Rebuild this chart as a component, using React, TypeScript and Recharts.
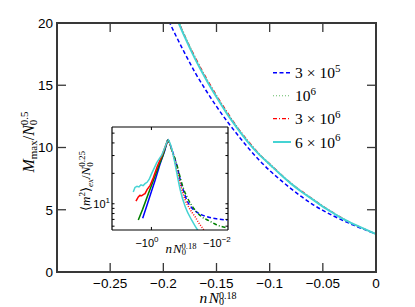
import React from 'react';
import { LineChart, Line, XAxis, YAxis, ReferenceLine } from 'recharts';

// ---------- main panel data ----------
const mainX = [-0.2, -0.19, -0.18, -0.17, -0.16, -0.15, -0.14, -0.13, -0.12, -0.11, -0.1, -0.09, -0.08, -0.07, -0.06, -0.05, -0.04, -0.03, -0.02, -0.01, 0];
const main3e5 = [21.1, 19.3, 17.6, 16.0, 14.6, 13.3, 12.1, 11.0, 9.95, 9.0, 8.15, 7.4, 6.7, 6.05, 5.45, 4.95, 4.5, 4.1, 3.72, 3.38, 3.05];
const main1e6 = [23.3, 21.1, 19.05, 17.2, 15.55, 14.1, 12.75, 11.5, 10.4, 9.45, 8.6, 7.85, 7.1, 6.45, 5.85, 5.25, 4.72, 4.22, 3.8, 3.42, 3.05];
const main3e6 = [23.1, 21.0, 19.0, 17.25, 15.65, 14.2, 12.85, 11.6, 10.5, 9.5, 8.7, 7.9, 7.15, 6.5, 5.9, 5.3, 4.75, 4.24, 3.8, 3.42, 3.05];
const main6e6 = [23.0, 20.9, 18.9, 17.1, 15.5, 14.05, 12.7, 11.5, 10.4, 9.45, 8.65, 7.85, 7.1, 6.45, 5.85, 5.25, 4.72, 4.22, 3.8, 3.42, 3.05];
const mainXTicks = [-0.25, -0.2, -0.15, -0.1, -0.05, 0];
const mainYTicks = [0, 5, 10, 15, 20];

// legend labels: [mantissa, exponent]
const legendLabels: [string | null, string][] = [['3', '5'], [null, '6'], ['3', '6'], ['6', '6']];

// ---------- inset data (|n N0^0.18|, <m^2>_ex / N0^0.25) ----------
const insetBlueRiseX = [1.69, 1.3, 1.0, 0.8, 0.6, 0.45, 0.37];
const insetBlueRiseY = [7.2, 9.7, 13.2, 17.1, 24.5, 33.5, 43.6];
const insetBlueFallX = [0.37, 0.32, 0.27, 0.238, 0.2, 0.176, 0.15, 0.118, 0.09, 0.071, 0.05, 0.0316, 0.02, 0.0104];
const insetBlueFallY = [43.6, 38, 31.5, 27.1, 21.2, 17.1, 13.9, 10.8, 9.2, 8.45, 7.8, 7.36, 7.1, 6.9];

const insetGreenRiseX = [2.2, 1.7, 1.2, 0.9, 0.655, 0.5, 0.37];
const insetGreenRiseY = [6.9, 8.8, 12.6, 16.8, 23.3, 30, 43.6];
const insetGreenFallX = [0.37, 0.32, 0.27, 0.238, 0.2, 0.176, 0.15, 0.118, 0.09, 0.071, 0.05, 0.0316, 0.02, 0.0104];
const insetGreenFallY = [43.6, 37.5, 31, 27.5, 21.8, 18.0, 14.6, 11.7, 9.7, 8.6, 7.5, 6.8, 6.2, 5.75];

const insetRedRiseX = [2.53, 2.35, 2.2, 2.0, 1.8, 1.6, 1.47, 1.3, 1.08, 0.9, 0.7, 0.52, 0.37];
const insetRedRiseY = [10.6, 11.2, 11.7, 12.1, 12.0, 12.4, 12.6, 13.8, 15.2, 18.0, 23.5, 30.5, 43.6];
const insetRedFallX = [0.37, 0.32, 0.27, 0.216, 0.18, 0.159, 0.13, 0.106, 0.085, 0.071, 0.06, 0.048, 0.04];
const insetRedFallY = [43.6, 37.5, 30.5, 21.5, 16.2, 13.6, 10.8, 9.27, 8.1, 7.36, 6.6, 5.85, 5.3];

const insetCyanRiseX = [2.98, 2.69, 2.38, 2.11, 1.87, 1.65, 1.47, 1.3, 1.15, 0.98, 0.725, 0.535, 0.436, 0.37];
const insetCyanRiseY = [13.1, 14.5, 14.9, 14.7, 15.4, 15.1, 15.8, 16.3, 17.4, 20, 25.5, 30.4, 36.9, 43.6];
const insetCyanFallX = [0.37, 0.322, 0.29, 0.248, 0.216, 0.176, 0.13, 0.087, 0.06, 0.05];
const insetCyanFallY = [43.6, 39.2, 34.1, 26.1, 19.95, 13.6, 9.27, 6.8, 5.4, 5.0];

const insetXTicks = [1, 0.01];
const insetYTicks = [6, 7, 8, 9, 10, 20, 30, 40, 50];

// ---------- axis domains ----------
const MAIN_X_DOMAIN: [number, number] = [-0.3, 0];
const MAIN_Y_DOMAIN: [number, number] = [0, 20];
const INSET_X_DOMAIN: [number, number] = [0.01, 10.7];
const INSET_Y_DOMAIN: [number, number] = [5.5, 57.5];

// ---------- layout ----------
const MAIN_MARGIN = { top: 23, right: 39, bottom: 0, left: 0 };
const MAIN_W = 415;
const MAIN_H = 307;
const MAIN_YAXIS_W = 57;
const MAIN_XAXIS_H = 35;
const PL = MAIN_MARGIN.left + MAIN_YAXIS_W;
const PT = MAIN_MARGIN.top;
const PR = MAIN_W - MAIN_MARGIN.right;
const PB = MAIN_H - MAIN_MARGIN.bottom - MAIN_XAXIS_H;

// ---------- styles ----------
const FRAME = '#383838';
const SANS = '"Liberation Sans", Arial, Helvetica, sans-serif';
const SERIF = '"Liberation Serif", "Times New Roman", serif';

const INSET_TICK_FY = Math.pow(10, 3 / 100);
const INSET_TICK_FX = Math.pow(10, 2.5 / 38);

const mainSeries = [
  { key: 'a', color: '#0000ff', dash: '4 2.5', width: 1.5 },
  { key: 'b', color: '#66bb66', dash: '1 2', width: 1.1 },
  { key: 'c', color: '#ff0000', dash: '4 2 1 2', width: 1.2 },
  { key: 'd', color: '#45d3d3', dash: undefined as string | undefined, width: 2 },
];

const mainData = mainX.map((x, i) => ({ x, a: main3e5[i], b: main1e6[i], c: main3e6[i], d: main6e6[i] }));
const zip = (xs: number[], ys: number[]) => xs.map((x, i) => ({ x, y: ys[i] }));

const insetSeries = [
  { rise: zip(insetBlueRiseX, insetBlueRiseY), fall: zip(insetBlueFallX, insetBlueFallY), color: '#0000ff', dash: '4 2.5' },
  { rise: zip(insetGreenRiseX, insetGreenRiseY), fall: zip(insetGreenFallX, insetGreenFallY), color: '#008000', dash: '4 2 1 2' },
  { rise: zip(insetRedRiseX, insetRedRiseY), fall: zip(insetRedFallX, insetRedFallY), color: '#ff0000', dash: '1 1.5' },
  { rise: zip(insetCyanRiseX, insetCyanRiseY), fall: zip(insetCyanFallX, insetCyanFallY), color: '#45d3d3', dash: undefined as string | undefined },
];

const fmtMain = (v: number) => (v === 0 ? '0' : (v < 0 ? '\u2212' : '') + String(Math.abs(v)));

// tick label renderers (x, y = position of the axis line at that tick)
const mainBottomLabel = (p: any) => (
  <text x={p.x} y={p.y + 15.5} textAnchor="middle" fontFamily={SANS} fontSize={13.5} fill="#000">{fmtMain(p.payload.value)}</text>
);
const mainLeftLabel = (p: any) => (
  <text x={p.x - 4} y={p.y + 4.8} textAnchor="end" fontFamily={SANS} fontSize={13.5} fill="#000">{fmtMain(p.payload.value)}</text>
);
const insetBottomLabel = (p: any) => {
  const v = p.payload.value;
  return (
    <text x={v === 1 ? p.x - 16 : p.x - 25} y={p.y + 17} fontFamily={SANS} fontSize={11} fill="#000">
      {'\u221210'}
      <tspan fontSize={8} dy={-5}>{v === 1 ? '0' : '\u22122'}</tspan>
    </text>
  );
};
const insetLeftLabel = (p: any) =>
  p.payload.value === 10 ? (
    <text x={p.x - 2} y={p.y + 4} textAnchor="end" fontFamily={SANS} fontSize={11} fill="#000">
      10<tspan fontSize={8} dy={-5}>1</tspan>
    </text>
  ) : (
    <g />
  );

const seg = (x1: number, y1: number, x2: number, y2: number, key: string, stroke: string, w: number) => (
  <ReferenceLine key={key} segment={[{ x: x1, y: y1 }, { x: x2, y: y2 }]} stroke={stroke} strokeWidth={w} ifOverflow="visible" />
);

function insetFrame() {
  const [x0, x1] = INSET_X_DOMAIN; // x0 at right (reversed)
  const [y0, y1] = INSET_Y_DOMAIN;
  const out: React.ReactNode[] = [];
  insetXTicks.filter((v) => v > x0 && v < x1).forEach((v) => {
    out.push(seg(v, y0, v, y0 * INSET_TICK_FY, 'xb' + v, '#000', 1));
    out.push(seg(v, y1, v, y1 / INSET_TICK_FY, 'xt' + v, '#000', 1));
  });
  insetYTicks.filter((v) => v > y0 && v < y1).forEach((v) => {
    out.push(seg(x1, v, x1 / INSET_TICK_FX, v, 'yl' + v, '#000', 1));
    out.push(seg(x0, v, x0 * INSET_TICK_FX, v, 'yr' + v, '#000', 1));
  });
  out.push(seg(x0, y0, x1, y0, 'fb', '#000', 1.2));
  out.push(seg(x0, y1, x1, y1, 'ft', '#000', 1.2));
  out.push(seg(x0, y0, x0, y1, 'fl', '#000', 1.2));
  out.push(seg(x1, y0, x1, y1, 'fr', '#000', 1.2));
  return out;
}

// frame and inward tick marks of the main panel (axis decoration)
function MainFrame() {
  const [x0, x1] = MAIN_X_DOMAIN;
  const [y0, y1] = MAIN_Y_DOMAIN;
  const px = (v: number) => PL + ((v - x0) / (x1 - x0)) * (PR - PL);
  const py = (v: number) => PB - ((v - y0) / (y1 - y0)) * (PB - PT);
  const T = 9;
  return (
    <g stroke={FRAME} fill="none">
      {mainXTicks.filter((v) => v > x0 && v < x1).map((v) => (
        <g key={'x' + v} strokeWidth={1.3}>
          <line x1={px(v)} x2={px(v)} y1={PB} y2={PB - T} />
          <line x1={px(v)} x2={px(v)} y1={PT} y2={PT + T} />
        </g>
      ))}
      {mainYTicks.filter((v) => v > y0 && v < y1).map((v) => (
        <g key={'y' + v} strokeWidth={1.3}>
          <line x1={PL} x2={PL + T} y1={py(v)} y2={py(v)} />
          <line x1={PR} x2={PR - T} y1={py(v)} y2={py(v)} />
        </g>
      ))}
      <rect x={PL} y={PT} width={PR - PL} height={PB - PT} strokeWidth={2} />
    </g>
  );
}

function MainChart() {
  return (
    <LineChart width={MAIN_W} height={MAIN_H} data={mainData} margin={MAIN_MARGIN}>
      <XAxis dataKey="x" type="number" domain={MAIN_X_DOMAIN} allowDataOverflow ticks={mainXTicks} interval={0}
        height={MAIN_XAXIS_H} tickSize={0} tickMargin={0} tickLine={false} axisLine={false} tick={mainBottomLabel} />
      <YAxis type="number" domain={MAIN_Y_DOMAIN} allowDataOverflow ticks={mainYTicks} interval={0}
        width={MAIN_YAXIS_W} tickSize={0} tickMargin={0} tickLine={false} axisLine={false} tick={mainLeftLabel} />
      {mainSeries.map((s) => (
        <Line key={s.key} dataKey={s.key} type="monotone" stroke={s.color} strokeWidth={s.width}
          strokeDasharray={s.dash} dot={false} activeDot={false} isAnimationActive={false} />
      ))}
    </LineChart>
  );
}

function InsetChart() {
  return (
    <LineChart width={180} height={150} margin={{ top: 17, right: 12, bottom: 29, left: 51 }}>
      <XAxis dataKey="x" type="number" scale="log" domain={INSET_X_DOMAIN} reversed allowDataOverflow ticks={insetXTicks} interval={0}
        height={1} tickSize={0} tickMargin={0} tickLine={false} axisLine={false} tick={insetBottomLabel} />
      <YAxis type="number" scale="log" domain={INSET_Y_DOMAIN} allowDataOverflow ticks={insetYTicks} interval={0}
        width={1} tickSize={0} tickMargin={0} tickLine={false} axisLine={false} tick={insetLeftLabel} />
      {insetSeries.map((s, i) => (
        <Line key={'r' + i} data={s.rise} dataKey="y" type="linear" stroke={s.color} strokeWidth={1.5}
          dot={false} activeDot={false} isAnimationActive={false} />
      ))}
      {insetSeries.map((s, i) => (
        <Line key={'f' + i} data={s.fall} dataKey="y" type="monotone" stroke={s.color} strokeWidth={1.5}
          strokeDasharray={s.dash} dot={false} activeDot={false} isAnimationActive={false} />
      ))}
      {insetFrame()}
    </LineChart>
  );
}

function Overlay() {
  const rowY = [72.7, 95.7, 118.7, 142];
  return (
    <svg width={415} height={307} style={{ position: 'absolute', left: 0, top: 0, pointerEvents: 'none' }}>
      <MainFrame />
      {/* main y title */}
      <text transform="translate(34,142) rotate(-90)" textAnchor="middle" fontFamily={SERIF} fontSize={16} fill="#000">
        <tspan fontStyle="italic">M</tspan>
        <tspan fontSize={11} dy={3}>max</tspan>
        <tspan dy={-3}>/</tspan>
        <tspan fontStyle="italic">N</tspan>
        <tspan fontSize={11} dy={3}>0</tspan>
        <tspan fontSize={11} dx={-5.5} dy={-9.5}>0.5</tspan>
      </text>
      {/* main x title */}
      <text x={218} y={303} textAnchor="middle" fontFamily={SERIF} fontSize={15.5} fill="#000">
        <tspan fontStyle="italic">n</tspan>
        <tspan fontStyle="italic" dx={1.5}>N</tspan>
        <tspan fontSize={10} dy={1.5}>0</tspan>
        <tspan fontSize={10} dx={-5} dy={-5.5}>0.18</tspan>
      </text>
      {/* legend */}
      {mainSeries.map((s, i) => (
        <g key={s.key}>
          <line x1={273} x2={291} y1={rowY[i]} y2={rowY[i]} stroke={s.color} strokeWidth={s.width} strokeDasharray={s.dash} />
          <text x={295} y={rowY[i] + 5.5} fontFamily={SERIF} fontSize={15.5} fill="#000">
            {legendLabels[i][0] ? (
              <>
                <tspan>{legendLabels[i][0]}</tspan>
                <tspan dx={4}>{'\u00d7'}</tspan>
                <tspan dx={4}>10</tspan>
              </>
            ) : (
              <tspan>10</tspan>
            )}
            <tspan fontSize={11} dy={-6.5}>{legendLabels[i][1]}</tspan>
          </text>
        </g>
      ))}
      {/* inset y title */}
      <text transform="translate(90,181) rotate(-90)" textAnchor="middle" fontFamily={SERIF} fontSize={13} fill="#000">
        <tspan>{'\u27e8'}</tspan>
        <tspan fontStyle="italic">m</tspan>
        <tspan fontSize={9} dy={-5}>2</tspan>
        <tspan dy={5}>{'\u27e9'}</tspan>
        <tspan fontSize={9} dy={3} fontStyle="italic">ex</tspan>
        <tspan dy={-3}>/</tspan>
        <tspan fontStyle="italic">N</tspan>
        <tspan fontSize={9} dy={3}>0</tspan>
        <tspan fontSize={9} dx={-4.5} dy={-8}>0.25</tspan>
      </text>
      {/* inset x title */}
      <text x={181} y={253} textAnchor="middle" fontFamily={SERIF} fontSize={13} fill="#000">
        <tspan fontStyle="italic">n</tspan>
        <tspan fontStyle="italic" dx={1}>N</tspan>
        <tspan fontSize={8.5} dy={2}>0</tspan>
        <tspan fontSize={8.5} dx={-4.3} dy={-6.5}>0.18</tspan>
      </text>
    </svg>
  );
}

export default function App() {
  return (
    <div style={{ position: 'absolute', left: 0, top: 0, width: 415, height: 307, background: '#fff', overflow: 'hidden' }}>
      <div style={{ position: 'absolute', left: 0, top: 0 }}>
        <MainChart />
      </div>
      <div style={{ position: 'absolute', left: 60, top: 110 }}>
        <InsetChart />
      </div>
      <Overlay />
    </div>
  );
}
